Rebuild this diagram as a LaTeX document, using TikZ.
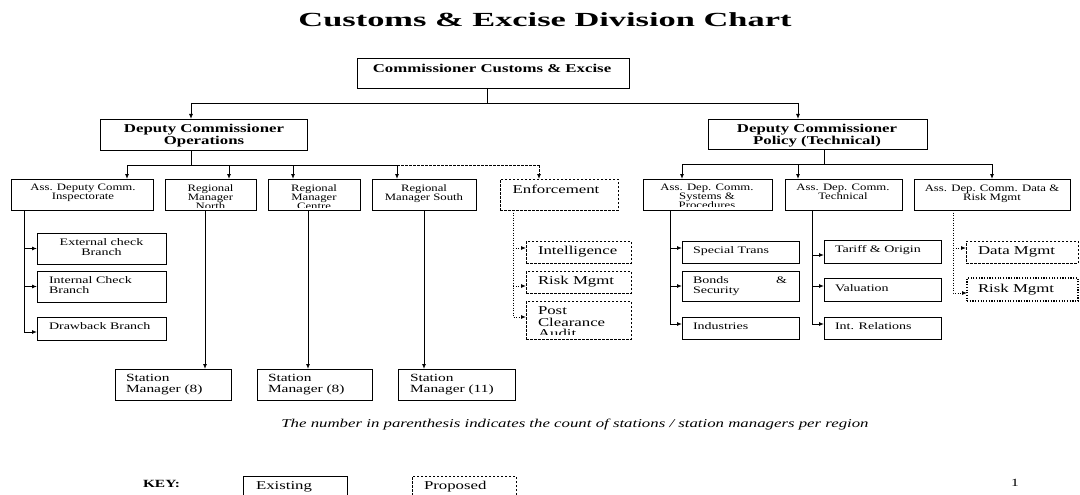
\documentclass[tikz,border=0pt]{standalone}
\usepackage{fontspec}
\setmainfont{Liberation Serif}[FakeStretch=1.4]
\newfontfamily\titlefont{Liberation Serif}[FakeStretch=1.72]
\newfontfamily\rowfont{Liberation Serif}[FakeStretch=1.3]
\usetikzlibrary{arrows.meta}
\newcommand{\mkbox}[6][]{\node[box,#1,anchor=north west,minimum width={(#5-#3)*1pt},minimum height={(#6-#4)*1pt}] (#2) at (#3,#4) {};}
\tikzset{
  box/.style={draw, line width=0.9pt, inner sep=0pt, outer sep=0pt},
  prop/.style={dash pattern=on 2.5pt off 1.5pt},
  propdot/.style={line width=1.4pt, dash pattern=on 1.2pt off 1.5pt},
  txt/.style={inner sep=0pt, outer sep=0pt},
  ln/.style={line width=0.9pt},
  arr/.style={line width=0.9pt, -{Latex[length=5pt,width=4pt]}},
  dln/.style={dash pattern=on 2.5pt off 1.5pt},
  dotln/.style={dash pattern=on 1pt off 1.5pt},
  fT/.style={font=\titlefont\bfseries\fontsize{20}{22}\selectfont},
  fB/.style={font=\bfseries\fontsize{12}{11.5}\selectfont},
  fS/.style={font=\rowfont\fontsize{9.8}{9}\selectfont},
  fM/.style={font=\fontsize{10}{9.7}\selectfont},
  fL/.style={font=\fontsize{12}{11.7}\selectfont},
  fSM/.style={font=\fontsize{11}{11}\selectfont},
  fI/.style={font=\itshape\fontsize{12}{12}\selectfont},
  fK/.style={font=\bfseries\fontsize{11}{11}\selectfont},
}
\begin{document}
\begin{tikzpicture}[x=1pt,y=-1pt]
\useasboundingbox (0,0) rectangle (1080,495);

% title
\node[txt,fT,anchor=base] (title) at (545,27) {Customs \& Excise Division Chart};

% boxes
\mkbox{comm}{357}{58}{629}{88}
\mkbox{dco}{100}{119}{307}{150}
\mkbox{dcp}{708}{119}{927}{149}
\mkbox{insp}{11}{179}{153}{210}
\mkbox{rmn}{165}{179}{256}{210}
\mkbox{rmc}{268}{179}{360}{210}
\mkbox{rms}{372}{179}{476}{210}
\mkbox[prop]{enf}{500}{179}{618}{210}
\mkbox{adcs}{643}{179}{772}{210}
\mkbox{adct}{785}{179}{902}{210}
\mkbox{adcd}{914}{179}{1070}{210}
\mkbox{ext}{37}{233}{166}{264}
\mkbox{int}{37}{271}{166}{302}
\mkbox{drawb}{37}{317}{166}{340}
\mkbox[prop]{intel}{526}{241}{631}{263}
\mkbox[prop]{riske}{526}{271}{631}{293}
\mkbox[prop]{pca}{526}{301}{631}{339}
\mkbox{spt}{682}{241}{799}{263}
\mkbox{bonds}{682}{271}{799}{301}
\mkbox{ind}{682}{317}{799}{339}
\mkbox{tariff}{824}{240}{941}{263}
\mkbox{val}{824}{278}{941}{301}
\mkbox{intrel}{824}{317}{941}{339}
\mkbox[prop]{datam}{966}{241}{1078}{263}
\mkbox[propdot]{riskd}{967}{278}{1078}{301}
\mkbox{sma}{115}{369}{231}{400}
\mkbox{smb}{257}{369}{372}{400}
\mkbox{smc}{398}{369}{515}{400}
\mkbox{keyex}{243}{476}{347}{499}
\mkbox[prop]{keypr}{412}{476}{516}{499}

% texts
\node[txt,fB,anchor=base] (commT) at (492,73) {Commissioner Customs \& Excise};
\node[txt,fB,align=center,anchor=north] (dcoT) at (204,124.5) {Deputy Commissioner\\Operations};
\node[txt,fB,align=center,anchor=north] (dcpT) at (817,124.5) {Deputy Commissioner\\Policy (Technical)};

\node[txt,fS,align=center,anchor=north] (inspT) at (83,184.5) {Ass. Deputy Comm.\\Inspectorate};
\begin{scope}
\clip ([yshift=3pt]rmn.south west) rectangle (rmn.north east);
\node[txt,fS,align=center,anchor=north] (rmnT) at (210.5,184.5) {Regional\\Manager\\North};
\end{scope}
\begin{scope}
\clip ([yshift=3pt]rmc.south west) rectangle (rmc.north east);
\node[txt,fS,align=center,anchor=north] (rmcT) at (314,184.5) {Regional\\Manager\\Centre};
\end{scope}
\node[txt,fS,align=center,anchor=north] (rmsT) at (424,184.5) {Regional\\Manager South};
\node[txt,fL,anchor=base] (enfT) at (556,193) {Enforcement};
\begin{scope}
\clip ([yshift=3.5pt]adcs.south west) rectangle (adcs.north east);
\node[txt,fS,align=center,anchor=north] (adcsT) at (707,184.5) {Ass. Dep. Comm.\\Systems \&\\Procedures};
\end{scope}
\node[txt,fS,align=center,anchor=north] (adctT) at (843,184.5) {Ass. Dep. Comm.\\Technical};
\node[txt,fS,align=center,anchor=north] (adcdT) at (992,184.5) {Ass. Dep. Comm. Data \&\\Risk Mgmt};

\node[txt,fM,align=center,anchor=north] (extT) at (101.5,238.5) {External check\\Branch};
\node[txt,fM,align=left,anchor=north west] (intT) at (49,276.5) {Internal Check\\Branch};
\node[txt,fM,anchor=base west] (drawT) at (49,329) {Drawback Branch};

\node[txt,fL,anchor=base west] (intelT) at (538,254) {Intelligence};
\node[txt,fL,anchor=base west] (riskeT) at (538,284) {Risk Mgmt};
\begin{scope}
\clip ([yshift=4.5pt]pca.south west) rectangle (pca.north east);
\node[txt,fL,align=left,anchor=north west] (pcaT) at (538,306.5) {Post\\Clearance\\Audit};
\end{scope}

\node[txt,fM,anchor=base west] (sptT) at (693,253) {Special Trans};
\node[txt,fM,align=left,anchor=north west] (bondsT) at (693,276.5) {\makebox[94pt][l]{Bonds\hfill\&}\\Security};
\node[txt,fM,anchor=base west] (indT) at (693,329) {Industries};

\node[txt,fM,anchor=base west] (tariffT) at (835,252) {Tariff \& Origin};
\node[txt,fM,anchor=base west] (valT) at (835,291) {Valuation};
\node[txt,fM,anchor=base west] (intrelT) at (835,329) {Int. Relations};

\node[txt,fL,anchor=base west] (datamT) at (978,254) {Data Mgmt};
\node[txt,fL,anchor=base west] (riskdT) at (978,292) {Risk Mgmt};

\node[txt,fSM,align=left,anchor=north west] (smaT) at (126,374.5) {Station\\Manager (8)};
\node[txt,fSM,align=left,anchor=north west] (smbT) at (268,374.5) {Station\\Manager (8)};
\node[txt,fSM,align=left,anchor=north west] (smcT) at (410,374.5) {Station\\Manager (11)};

\node[txt,fI,anchor=base] (noteT) at (575,427) {The number in parenthesis indicates the count of stations / station managers per region};
\node[txt,fK,anchor=base west] (keyT) at (143,487) {KEY:};
\node[txt,fL,anchor=base west] (exT) at (256,489) {Existing};
\node[txt,fL,anchor=base west] (prT) at (424,489) {Proposed};
\node[txt,fSM,anchor=base] (pageT) at (1015,486) {1};

% top connectors
\coordinate (j0) at (487,103);
\coordinate (jl) at (191,103);
\coordinate (jr) at (798,103);
\draw[ln] (comm.south -| j0) -- (j0);
\draw[ln] (jl) -- (jr);
\draw[arr] (jl) -- (jl |- dco.north);
\draw[arr] (jr) -- (jr |- dcp.north);

% operations bus
\coordinate (o0) at (191,165);
\coordinate (o1) at (127,165);
\coordinate (o2) at (229,165);
\coordinate (o3) at (293,165);
\coordinate (o4) at (397,165);
\coordinate (o5) at (539,165);
\draw[ln] (dco.south -| o0) -- (o0);
\draw[ln] (o1) -- (o4);
\draw[ln,dln] (o4) -- (o5);
\draw[arr] (o1) -- (o1 |- insp.north);
\draw[arr] (o2) -- (o2 |- rmn.north);
\draw[arr] (o3) -- (o3 |- rmc.north);
\draw[arr] (o4) -- (o4 |- rms.north);
\draw[arr,dln] (o5) -- (o5 |- enf.north);

% policy bus
\coordinate (p0) at (824,164);
\coordinate (p1) at (682,164);
\coordinate (p2) at (798,164);
\coordinate (p3) at (992,164);
\draw[ln] (dcp.south -| p0) -- (p0);
\draw[ln] (p1) -- (p3);
\draw[arr] (p1) -- (p1 |- adcs.north);
\draw[arr] (p2) -- (p2 |- adct.north);
\draw[arr] (p3) -- (p3 |- adcd.north);

% inspectorate branches
\coordinate (iv) at (24,210);
\coordinate (drawA) at ([yshift=-3.5pt]drawb.west);
\draw[arr] (insp.south -| iv) |- (drawA);
\draw[arr] (iv |- ext.west) -- (ext.west);
\draw[arr] (iv |- int.west) -- (int.west);

% enforcement branches
\coordinate (ev) at (513,210);
\coordinate (intelA) at ([yshift=4pt]intel.west);
\coordinate (riskeA) at ([yshift=-4pt]riske.west);
\coordinate (pcaA) at ([yshift=3pt]pca.west);
\draw[arr,dotln] (enf.south -| ev) |- (pcaA);
\draw[arr,dotln] (intelA -| ev) -- (intelA);
\draw[arr,dotln] (riskeA -| ev) -- (riskeA);

% systems branches
\coordinate (sv) at (670,210);
\coordinate (sptA) at ([yshift=4pt]spt.west);
\coordinate (indA) at ([yshift=4pt]ind.west);
\draw[arr] (adcs.south -| sv) |- (indA);
\draw[arr] (sptA -| sv) -- (sptA);
\draw[arr] (bonds.west -| sv) -- (bonds.west);

% technical branches
\coordinate (tv) at (812,210);
\coordinate (tariffA) at ([yshift=-3.5pt]tariff.west);
\coordinate (valA) at ([yshift=3.5pt]val.west);
\coordinate (intrelA) at ([yshift=4pt]intrel.west);
\draw[arr] (adct.south -| tv) |- (intrelA);
\draw[arr] (tariffA -| tv) -- (tariffA);
\draw[arr] (valA -| tv) -- (valA);

% data branches
\coordinate (dv) at (953,210);
\coordinate (datamA) at ([yshift=4pt]datam.west);
\coordinate (riskdA) at ([yshift=-3.5pt]riskd.west);
\draw[arr,dotln] (adcd.south -| dv) |- (riskdA);
\draw[arr,dotln] (datamA -| dv) -- (datamA);

% station managers
\coordinate (ra) at ([xshift=-5.5pt]rmn.south);
\coordinate (rb) at ([xshift=-6pt]rmc.south);
\coordinate (rc) at (rms.south);
\draw[arr] (ra) -- (ra |- sma.north);
\draw[arr] (rb) -- (rb |- smb.north);
\draw[arr] (rc) -- (rc |- smc.north);
\end{tikzpicture}
\end{document}
